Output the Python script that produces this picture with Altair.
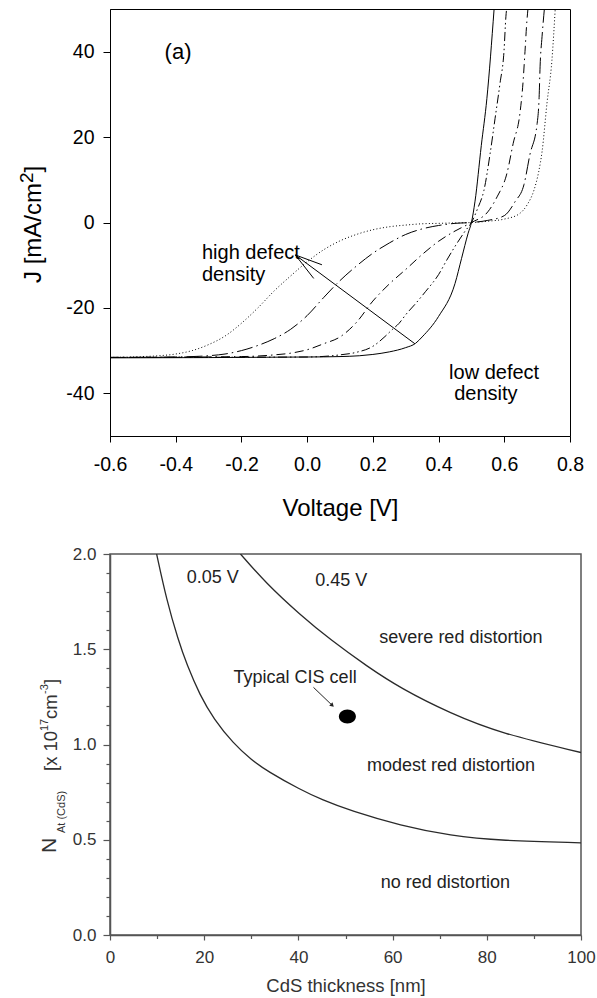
import altair as alt
import pandas as pd

FONT = "Liberation Sans"

# ---------------- Panel (a): J-V curves ----------------
vA = [-0.6, -0.5, -0.45, -0.4, -0.35, -0.3, -0.25, -0.2, -0.15, -0.1, -0.05, 0.0, 0.05, 0.1, 0.15, 0.2,
      0.25, 0.3, 0.35, 0.4, 0.45, 0.5, 0.55, 0.6, 0.645, 0.67, 0.69, 0.705, 0.715, 0.73, 0.745, 0.755]
jA = [-31.6, -31.4, -31.2, -30.8, -30.0, -28.6, -26.6, -23.6, -20.0, -16.0, -12.5, -9.2, -6.4, -4.3, -2.8, -1.7,
      -1.0, -0.6, -0.3, -0.2, -0.1, 0.0, 0.3, 0.8, 2.0, 4.2, 7.5, 12.0, 16.6, 28.0, 38.0, 50.0]
vB = [-0.6, -0.4, -0.3, -0.25, -0.2, -0.15, -0.1, -0.05, 0.0, 0.05, 0.1, 0.15, 0.2, 0.25, 0.3, 0.35, 0.4,
      0.45, 0.5, 0.55, 0.6, 0.633, 0.66, 0.678, 0.70, 0.706, 0.709, 0.715, 0.722]
jB = [-31.6, -31.5, -31.2, -30.8, -30.0, -28.8, -27.2, -25.0, -21.8, -17.6, -13.6, -10.2, -7.2, -4.8, -2.8,
      -1.5, -0.7, -0.2, 0.0, 0.5, 1.6, 4.9, 8.9, 15.9, 23.2, 29.3, 36.6, 43.6, 50.0]
vC = [-0.6, -0.2, -0.1, -0.05, 0.0, 0.05, 0.1, 0.15, 0.2, 0.25, 0.3, 0.35, 0.4, 0.45, 0.5, 0.55, 0.578,
      0.608, 0.627, 0.648, 0.657, 0.663, 0.669, 0.672]
jC = [-31.6, -31.4, -31.0, -30.6, -29.8, -28.4, -26.8, -23.4, -18.4, -14.4, -11.0, -7.5, -4.4, -2.0, 0.0,
      2.5, 6.0, 11.5, 18.5, 25.8, 32.8, 40.0, 47.4, 50.0]
vD = [-0.6, 0.0, 0.1, 0.15, 0.2, 0.237, 0.26, 0.28, 0.3, 0.33, 0.36, 0.4, 0.425, 0.45, 0.48, 0.5, 0.52,
      0.538, 0.557, 0.572, 0.587, 0.599, 0.605, 0.607]
jD = [-31.6, -31.5, -31.0, -30.4, -29.0, -26.7, -25.0, -23.6, -21.6, -19.0, -16.2, -12.2, -8.8, -5.6, -2.1,
      0.0, 3.5, 7.5, 16.2, 24.4, 32.6, 40.0, 48.3, 50.0]
vE = [-0.6, 0.0, 0.1, 0.16, 0.2, 0.25, 0.3, 0.33, 0.35, 0.4, 0.45, 0.47, 0.49, 0.5, 0.511, 0.53, 0.547, 0.569]
jE = [-31.7, -31.5, -31.4, -31.2, -30.9, -30.3, -29.3, -28.3, -26.8, -22.0, -14.3, -8.4, -2.5, 0.0, 5.0,
      18.0, 29.0, 50.0]

curves_a = [(vA, jA, [1, 2.3]), (vB, jB, [16, 4, 1.5, 4]), (vC, jC, [9, 4, 1.5, 4]),
            (vD, jD, [9, 3, 1.5, 3, 1.5, 3]), (vE, jE, None)]

# arrow "low -> high defect density"
arr_v0 = [0.328, -0.036, -0.036]
arr_j0 = [-28.4, -7.6, -7.6]
arr_v1 = [-0.036, 0.045, 0.020]
arr_j1 = [-7.6, -9.9, -13.1]

# ---------------- Panel (b): N_At(CdS) vs CdS thickness ----------------
t_005 = [9.9, 12, 14.5, 16.3, 19.1, 22, 26.2, 30, 33.4, 40.4, 45, 51.1, 61.7, 72.3, 83, 100]
n_005 = [2.0, 1.76, 1.547, 1.42, 1.258, 1.135, 1.005, 0.92, 0.86, 0.763, 0.71, 0.652, 0.574, 0.521, 0.495, 0.484]
t_045 = [27.7, 33, 40.4, 46.8, 54.6, 61.7, 72.3, 83, 100]
n_045 = [2.0, 1.85, 1.68, 1.55, 1.41, 1.295, 1.163, 1.058, 0.958]
cell_t = [50.4]
cell_n = [1.147]
cell_arrow_t = [43.2, 47.2]
cell_arrow_n = [1.30, 1.205]

ONE = pd.DataFrame({"k": [0]})
MINUS = "\u2212"

# ---------------- encodings ----------------
X_TOP = alt.X("V:Q", scale=alt.Scale(domain=[-0.6, 0.8], nice=False, zero=False),
              axis=alt.Axis(values=[-0.6, -0.4, -0.2, 0.0, 0.2, 0.4, 0.6, 0.8],
                            labelExpr=f"replace(format(datum.value, '.1f'), '{MINUS}', '-')",
                            title="Voltage [V]", titleY=79, titleBaseline="alphabetic",
                            titleFontSize=24, titleFontWeight="normal", labelFontSize=19.5,
                            tickSize=6, labelPadding=13, labelFlush=False, labelOverlap=False,
                            domainColor="black", tickColor="black",
                            labelColor="black", titleColor="black", grid=False))
Y_TOP = alt.Y("J:Q", scale=alt.Scale(domain=[-50, 50], nice=False, zero=False),
              axis=alt.Axis(values=[-40, -20, 0, 20, 40],
                            labelExpr=f"replace(format(datum.value, 'd'), '{MINUS}', '-')",
                            title=None, labelFontSize=19.5, tickSize=7, labelPadding=9,
                            labelFlush=False, labelOverlap=False,
                            domainColor="black", tickColor="black", labelColor="black", grid=False))

GRAY = "#333333"
X_BOT = alt.X("t:Q", scale=alt.Scale(domain=[0, 100], nice=False, zero=False),
              axis=alt.Axis(values=[0, 10, 20, 30, 40, 50, 60, 70, 80, 90, 100],
                            labelExpr="datum.value % 20 === 0 ? datum.label : ''",
                            tickSize={"expr": "datum.value % 20 === 0 ? 5 : 3.5"},
                            title="CdS thickness [nm]", titleY=56, titleBaseline="alphabetic",
                            titleFontSize=18.5, titleFontWeight="normal", labelFontSize=17,
                            labelPadding=9, labelFlush=False, labelOverlap=False,
                            domainColor="#555555", domainWidth=1.5,
                            tickColor="#555555", tickWidth=1.2, labelColor=GRAY, titleColor=GRAY,
                            grid=False))
Y_BOT = alt.Y("N:Q", scale=alt.Scale(domain=[0, 2.0], nice=False, zero=False),
              axis=alt.Axis(values=[0.0, 0.1, 0.2, 0.3, 0.4, 0.5, 0.6, 0.7, 0.8, 0.9, 1.0, 1.1, 1.2,
                                    1.3, 1.4, 1.5, 1.6, 1.7, 1.8, 1.9, 2.0],
                            labelExpr="abs(datum.value * 2 - round(datum.value * 2)) < 1e-6 ? format(datum.value, '.1f') : ''",
                            tickSize={"expr": "abs(datum.value * 2 - round(datum.value * 2)) < 1e-6 ? 7 : 4"},
                            title=None, labelFontSize=17, labelPadding=7,
                            labelFlush=False, labelOverlap=False,
                            domainColor="#555555", domainWidth=1.5, tickColor="#555555",
                            tickWidth=1.2, labelColor=GRAY, grid=False))


def ptext(txt, x, y, size, color="black", angle=270, align="left"):
    return alt.Chart(ONE).mark_text(text=txt, angle=angle, align=align, baseline="alphabetic",
                                    fontSize=size, font=FONT, color=color).encode(
        x=alt.value(x), y=alt.value(y))


def pin(y0, y1):
    return alt.Chart(ONE).mark_rule(color="white", strokeWidth=1).encode(
        x=alt.value(-108.5), y=alt.value(y0), y2=alt.value(y1))


# ---------------- top panel ----------------
top_layers = [pin(-7.5, 531.5)]
for v, j, dash in curves_a:
    df = pd.DataFrame({"V": v, "J": j})
    kw = dict(color="black", strokeWidth=1, clip=True, interpolate="monotone")
    if dash:
        kw["strokeDash"] = dash
    top_layers.append(alt.Chart(df).mark_line(**kw).encode(x=X_TOP, y=Y_TOP, order="V:Q"))

arr_df = pd.DataFrame({"V": arr_v0, "J": arr_j0, "V2": arr_v1, "J2": arr_j1})
top_layers.append(alt.Chart(arr_df).mark_rule(color="black", strokeWidth=1).encode(
    x=X_TOP, y=Y_TOP, x2="V2:Q", y2="J2:Q"))

lbl_left = pd.DataFrame({"V": [-0.32, -0.32], "J": [-8.44, -13.6], "label": ["high defect", "density"]})
top_layers.append(alt.Chart(lbl_left).mark_text(align="left", baseline="alphabetic", fontSize=20,
                                                 color="black").encode(x=X_TOP, y=Y_TOP, text="label:N"))
lbl_ctr = pd.DataFrame({"V": [0.569, 0.544], "J": [-36.6, -41.5], "label": ["low defect", "density"]})
top_layers.append(alt.Chart(lbl_ctr).mark_text(align="center", baseline="alphabetic", fontSize=20,
                                                color="black").encode(x=X_TOP, y=Y_TOP, text="label:N"))
lbl_a = pd.DataFrame({"V": [-0.393], "J": [38.2], "label": ["(a)"]})
top_layers.append(alt.Chart(lbl_a).mark_text(align="center", baseline="alphabetic", fontSize=22,
                                              color="black").encode(x=X_TOP, y=Y_TOP, text="label:N"))

# y title J [mA/cm^2]
top_layers += [ptext("J [mA/cm", -69, 274, 24), ptext("2", -77, 174, 19), ptext("]", -69, 163.4, 24)]

top = alt.layer(*top_layers).properties(
    width=460, height=427, view=alt.ViewBackground(stroke="black", strokeWidth=1))

# ---------------- bottom panel ----------------
bot_layers = [pin(-10, 0)]
for t, n in [(t_005, n_005), (t_045, n_045)]:
    df = pd.DataFrame({"t": t, "N": n})
    bot_layers.append(alt.Chart(df).mark_line(color="#2a2a2a", strokeWidth=1.3, clip=True,
                                              interpolate="basis").encode(x=X_BOT, y=Y_BOT, order="t:Q"))

cell_df = pd.DataFrame({"t": cell_t, "N": cell_n})
bot_layers.append(alt.Chart(cell_df).mark_point(
    shape="M -1 0 A 1 0.82 0 1 0 1 0 A 1 0.82 0 1 0 -1 0 Z", size=289, filled=True,
    color="black", opacity=1).encode(x=X_BOT, y=Y_BOT))

ca_df = pd.DataFrame({"t": [cell_arrow_t[0]], "N": [cell_arrow_n[0]],
                      "t2": [cell_arrow_t[1]], "N2": [cell_arrow_n[1]]})
bot_layers.append(alt.Chart(ca_df).mark_rule(color="#222222", strokeWidth=1).encode(
    x=X_BOT, y=Y_BOT, x2="t2:Q", y2="N2:Q"))
tip_df = pd.DataFrame({"t": [cell_arrow_t[1]], "N": [cell_arrow_n[1]]})
bot_layers.append(alt.Chart(tip_df).mark_point(shape="triangle-right", angle=44, size=22, filled=True,
                                               color="#222222", opacity=1).encode(x=X_BOT, y=Y_BOT))

bot_lbl = pd.DataFrame({
    "t": [21.8, 49.1, 74.5, 39.3, 72.4, 71.2],
    "N": [1.848, 1.832, 1.533, 1.323, 0.861, 0.247],
    "label": ["0.05 V", "0.45 V", "severe red distortion", "Typical CIS cell",
              "modest red distortion", "no red distortion"],
})
bot_layers.append(alt.Chart(bot_lbl).mark_text(align="center", baseline="alphabetic", fontSize=18,
                                                color="#222222").encode(x=X_BOT, y=Y_BOT, text="label:N"))

# y title N_At(CdS) [x 10^17 cm^-3]
bot_layers += [
    ptext("N", -54, 299, 21, GRAY),
    ptext("At (CdS)", -45, 279, 11, GRAY),
    ptext("[x 10", -53, 217, 18.5, GRAY),
    ptext("17", -62, 177, 11, GRAY),
    ptext("cm", -53, 165, 18.5, GRAY),
    ptext("-3", -62, 140, 11, GRAY),
    ptext("]", -53, 130, 18.5, GRAY),
]

bottom = alt.layer(*bot_layers).properties(
    width=471, height=381, view=alt.ViewBackground(stroke="#555555", strokeWidth=1.5))

chart = alt.vconcat(top, bottom, spacing=0).properties(padding=0).configure(
    font=FONT).configure_axis(labelFont=FONT, titleFont=FONT).configure_text(font=FONT)

chart.save("out.html", embed_options={"renderer": "svg", "actions": False})
